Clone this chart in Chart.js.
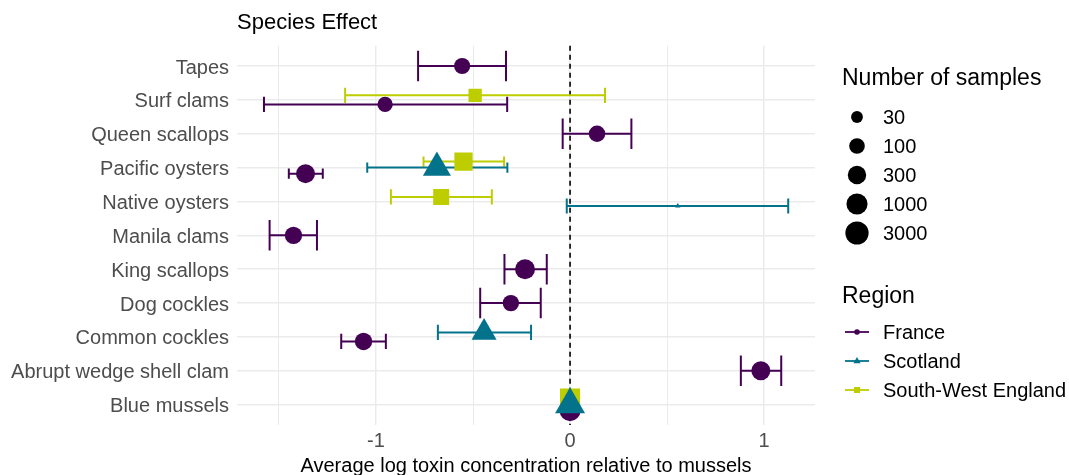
<!DOCTYPE html>
<html>
<head>
<meta charset="utf-8">
<script src="https://cdn.jsdelivr.net/npm/chart.js@4.4.1/dist/chart.umd.min.js"></script>
<style>
  html, body { margin: 0; padding: 0; background: #fff; }
  #wrap { width: 1069px; height: 475px; }
</style>
</head>
<body>
<div id="wrap"><canvas id="cv-species" width="1069" height="475"></canvas></div>
<script>
// species, top to bottom
const species = ['Tapes', 'Surf clams', 'Queen scallops', 'Pacific oysters', 'Native oysters',
    'Manila clams', 'King scallops', 'Dog cockles', 'Common cockles', 'Abrupt wedge shell clam', 'Blue mussels'];
const regions = ['France', 'Scotland', 'South-West England'];
const xTicks = [-1.5, -1, -0.5, 0, 0.5, 1];
const sizeBreaks = [30, 100, 300, 1000, 3000];

// estimate, lower / upper error, number of samples (null = region not sampled)
const franceEst = [-0.556, -0.953, 0.139, -1.363, null, -1.425, -0.232, -0.305, -1.064, 0.983, 0];
const franceLo  = [-0.783, -1.577, -0.038, -1.449, null, -1.548, -0.338, -0.463, -1.179, 0.880, null];
const franceHi  = [-0.330, -0.324, 0.316, -1.274, null, -1.304, -0.120, -0.151, -0.949, 1.088, null];
const franceN   = [120, 90, 140, 380, null, 195, 600, 132, 195, 380, 900];

const scotlandEst = [null, null, null, -0.686, 0.555, null, null, null, -0.443, null, 0];
const scotlandLo  = [null, null, null, -1.045, -0.017, null, null, null, -0.681, null, null];
const scotlandHi  = [null, null, null, -0.323, 1.124, null, null, null, -0.201, null, null];
const scotlandN   = [null, null, null, 870, 7, null, null, null, 320, null, 1800];

const sweEst = [null, -0.489, null, -0.549, -0.664, null, null, null, null, null, 0];
const sweLo  = [null, -1.159, null, -0.755, -0.923, null, null, null, null, null, null];
const sweHi  = [null, 0.180, null, -0.340, -0.403, null, null, null, null, null, null];
const sweN   = [null, 80, null, 790, 250, null, null, null, null, null, 2200];

const FONT = '"Liberation Sans", Arial, Helvetica, sans-serif';
const colours = ['#440154', '#03728B', '#BECD00'];
const shapes = ['circle', 'triangle', 'rect'];
const shapeScale = [1, 1.555, 1.2533];  // equal-area R pch 16 / 17 / 15
const series = [
    { est: franceEst, lo: franceLo, hi: franceHi, n: franceN },
    { est: scotlandEst, lo: scotlandLo, hi: scotlandHi, n: scotlandN },
    { est: sweEst, lo: sweLo, hi: sweHi, n: sweN }
];
const dodge = 0.533;
const barWidth = 0.9;

// area scale on log10(n)
function sizeRadius(n) {
    return Math.sqrt(Math.max(4, -39.1 + 50.1 * Math.log10(n)));
}

// dodge offset of region r at species i
function offsetOf(r, i) {
    const present = series.map((s, k) => s.est[i] !== null ? k : -1).filter(k => k >= 0);
    const m = present.length;
    const k = present.indexOf(r);
    return { off: ((m - 1) / 2 - k) * dodge / m, m: m };
}

function pxPerUnit(chart) {
    const y = chart.scales.y;
    return Math.abs(y.getPixelForValue(1) - y.getPixelForValue(0));
}

const datasets = [];
// points: Scotland on top, then South-West England, then France
[1, 2, 0].forEach((r, idx) => {
    const s = series[r];
    const pts = [];
    s.est.forEach((v, i) => {
        if (v === null) return;
        pts.push({ x: v, y: i + offsetOf(r, i).off, n: s.n[i] });
    });
    datasets.push({
        type: 'scatter',
        label: regions[r],
        data: pts,
        order: idx,
        pointStyle: shapes[r],
        backgroundColor: colours[r],
        borderWidth: 0,
        pointRadius: ctx => sizeRadius(ctx.raw.n) * shapeScale[r],
        pointHoverRadius: ctx => sizeRadius(ctx.raw.n) * shapeScale[r]
    });
});
// error bars
[1, 2, 0].forEach((r, idx) => {
    const s = series[r];
    const pts = [];
    s.est.forEach((v, i) => {
        if (v === null || s.lo[i] === null) return;
        const d = offsetOf(r, i);
        pts.push({ x: s.lo[i], y: i + d.off, m: d.m });
        pts.push({ x: s.hi[i], y: i + d.off, m: d.m });
        pts.push({ x: s.lo[i], y: null, m: d.m });
    });
    datasets.push({
        type: 'line',
        label: regions[r] + ' error',
        data: pts,
        order: 3 + idx,
        spanGaps: false,
        borderColor: colours[r],
        borderWidth: 2,
        pointStyle: 'line',
        rotation: 90,
        pointBorderColor: colours[r],
        pointBorderWidth: 2,
        pointRadius: ctx => pxPerUnit(ctx.chart) * barWidth / 2 / ctx.raw.m,
        pointHoverRadius: ctx => pxPerUnit(ctx.chart) * barWidth / 2 / ctx.raw.m
    });
});

const zeroLine = {
    id: 'zeroLine',
    beforeDatasetsDraw(chart) {
        const { ctx, chartArea, scales } = chart;
        const x = scales.x.getPixelForValue(0);
        ctx.save();
        ctx.strokeStyle = '#000';
        ctx.lineWidth = 1.6;
        ctx.setLineDash([5, 4]);
        ctx.beginPath();
        ctx.moveTo(x, chartArea.top);
        ctx.lineTo(x, chartArea.bottom);
        ctx.stroke();
        ctx.restore();
    }
};

const sideLegend = {
    id: 'sideLegend',
    afterDraw(chart) {
        const ctx = chart.ctx;
        ctx.save();
        ctx.fillStyle = '#000';
        ctx.textBaseline = 'middle';
        ctx.textAlign = 'left';
        ctx.font = '23px ' + FONT;
        ctx.fillText('Number of samples', 842, 79);
        ctx.font = '20px ' + FONT;
        sizeBreaks.forEach((n, i) => {
            const y = 117 + i * 29;
            ctx.beginPath();
            ctx.arc(857, y, sizeRadius(n), 0, Math.PI * 2);
            ctx.fill();
            ctx.fillText(String(n), 883, y + 1);
        });
        ctx.font = '23px ' + FONT;
        ctx.fillText('Region', 842, 297);
        ctx.font = '20px ' + FONT;
        regions.forEach((name, r) => {
            const y = 332 + r * 29;
            ctx.strokeStyle = colours[r];
            ctx.fillStyle = colours[r];
            ctx.lineWidth = 1.8;
            ctx.beginPath();
            ctx.moveTo(845, y);
            ctx.lineTo(869, y);
            ctx.stroke();
            ctx.beginPath();
            if (r === 0) {
                ctx.arc(857, y, 2.8, 0, Math.PI * 2);
            } else if (r === 1) {
                ctx.moveTo(857, y - 4);
                ctx.lineTo(860.6, y + 2.2);
                ctx.lineTo(853.4, y + 2.2);
                ctx.closePath();
            } else {
                ctx.rect(854, y - 3, 6, 6);
            }
            ctx.fill();
            ctx.fillStyle = '#000';
            ctx.fillText(name, 883, y + 1);
        });
        ctx.restore();
    }
};

new Chart(document.getElementById('cv-species'), {
    data: { datasets: datasets },
    plugins: [zeroLine, sideLegend],
    options: {
        responsive: false,
        animation: false,
        events: [],
        layout: { padding: { left: 0, right: 254, top: 0, bottom: 0 } },
        plugins: {
            legend: { display: false },
            tooltip: { enabled: false },
            title: {
                display: true,
                text: 'Species Effect',
                align: 'start',
                fullSize: false,
                color: '#000',
                font: { family: FONT, size: 22, weight: 'normal', lineHeight: 1.2 },
                padding: { top: 10, bottom: 9.3 }
            }
        },
        scales: {
            x: {
                type: 'linear',
                min: -1.716,
                max: 1.262,
                afterBuildTicks: scale => { scale.ticks = xTicks.map(v => ({ value: v })); },
                afterFit: scale => { scale.height = 50; },
                ticks: {
                    color: '#4D4D4D',
                    padding: 4,
                    font: { family: FONT, size: 20 },
                    callback: v => Number.isInteger(v) ? String(v) : ''
                },
                grid: {
                    drawTicks: false,
                    color: '#EBEBEB',
                    lineWidth: ctx => Number.isInteger(ctx.tick.value) ? 1.5 : 1
                },
                border: { display: false },
                title: {
                    display: true,
                    text: 'Average log toxin concentration relative to mussels',
                    color: '#000',
                    font: { family: FONT, size: 20, lineHeight: 1 },
                    padding: { top: 0, bottom: -1 }
                }
            },
            y: {
                type: 'linear',
                reverse: true,
                min: -0.6,
                max: 10.6,
                afterBuildTicks: scale => { scale.ticks = species.map((s, i) => ({ value: i })); },
                afterFit: scale => { scale.width = 237; },
                ticks: {
                    color: '#4D4D4D',
                    padding: 8,
                    labelOffset: 2,
                    font: { family: FONT, size: 20 },
                    callback: v => species[v]
                },
                grid: { drawTicks: false, color: '#EBEBEB', lineWidth: 1.5 },
                border: { display: false }
            }
        }
    }
});
</script>
</body>
</html>
